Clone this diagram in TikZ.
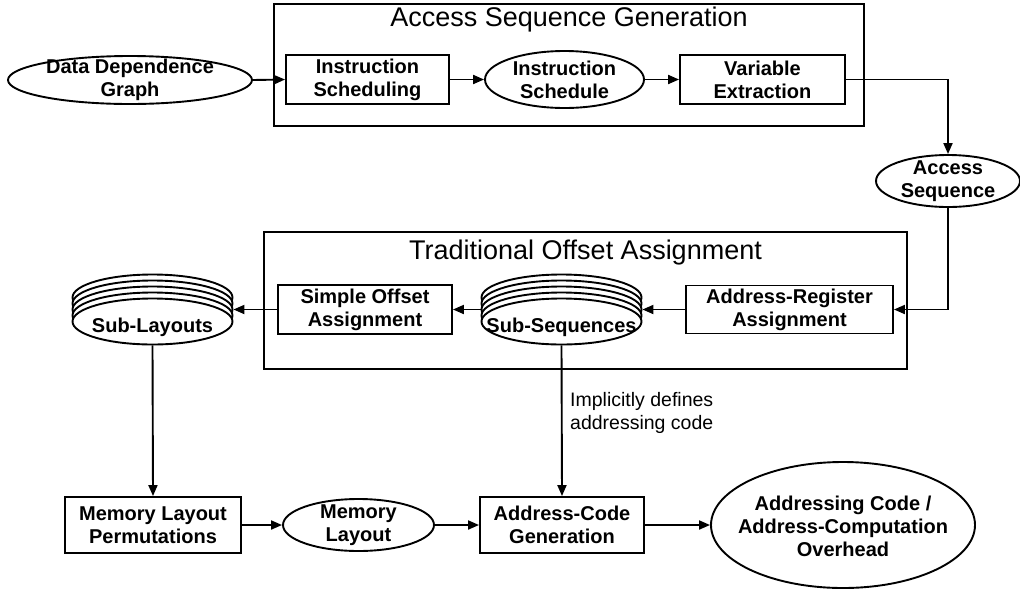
\documentclass[tikz,border=0pt]{standalone}
\usepackage{fontspec}
\setmainfont{Liberation Sans}
\usetikzlibrary{arrows.meta,shapes.geometric}
\begin{document}
\begin{tikzpicture}[x=1pt,y=-1pt,
  proc/.style={draw,line width=1.9pt,rectangle,inner sep=0pt,font=\bfseries\fontsize{20}{23}\selectfont,align=center},
  elli/.style={draw,line width=1.9pt,ellipse,inner sep=0pt},
  stk/.style={draw,fill=white,line width=1.9pt,ellipse,inner sep=0pt,minimum width=160pt,minimum height=46pt},
  etext/.style={font=\bfseries\fontsize{20}{23}\selectfont,align=center,inner sep=0pt},
  grp/.style={draw,line width=1.9pt,rectangle,inner sep=0pt},
  ttl/.style={font=\fontsize{27}{30}\selectfont,inner sep=0pt},
  lbl/.style={font=\fontsize{19.5}{23}\selectfont,align=left,inner sep=0pt},
  arr/.style={line width=1.9pt,-{Triangle[length=11pt,width=9pt]}}]
\useasboundingbox (0,0) rectangle (1020,590);

% group boxes
\node[grp,minimum width=590pt,minimum height=122pt] (asg) at (569,65) {};
\node[ttl] (asgt) at (569,20) {Access Sequence Generation};
\node[grp,minimum width=643pt,minimum height=137pt] (toa) at (585.5,300.5) {};
\node[ttl] (toat) at (585.5,253) {Traditional Offset Assignment};

% row 1
\node[elli,minimum width=244pt,minimum height=48pt] (ddg) at (130,80) {};
\node[etext] (ddgt) at (ddg) {Data Dependence\\Graph};
\node[proc,minimum width=163pt,minimum height=49pt] (is) at (367.5,79.5) {Instruction\\Scheduling};
\node[elli,minimum width=159pt,minimum height=57pt] (isc) at (564.5,79.5) {};
\node[etext] (isct) at (isc) {Instruction\\Schedule};
\node[proc,minimum width=165pt,minimum height=49pt] (ve) at (762.5,79.5) {Variable\\Extraction};
\node[elli,minimum width=144pt,minimum height=52pt] (as) at (948,181) {};
\node[etext] (ast) at (as) {Access\\Sequence};

% row 2
\node[proc,minimum width=207pt,minimum height=48pt] (ar) at (789.5,309.5) {Address-Register\\Assignment};
\node[proc,minimum width=174pt,minimum height=49pt] (so) at (365,309.5) {Simple Offset\\Assignment};
\foreach \i/\dy in {1/-24,2/-18,3/-12,4/-6,5/0}{
  \node[stk] (ss\i) at (561.5,321.5+\dy) {};
  \node[stk] (sl\i) at (152.5,321.5+\dy) {};
}
\node[etext] (sst) at (561.5,327) {Sub-Sequences};
\node[etext] (slt) at (152.5,327) {Sub-Layouts};

% row 3
\node[proc,minimum width=176pt,minimum height=56pt] (mlp) at (153,525) {Memory Layout\\Permutations};
\node[elli,minimum width=151pt,minimum height=52pt] (ml) at (358.5,525) {};
\node[etext] (mlt) at (ml) {Memory\\Layout};
\node[proc,minimum width=164pt,minimum height=56pt] (acg) at (562,525) {Address-Code\\Generation};
\node[elli,minimum width=264pt,minimum height=126pt] (ac) at (843,525) {};
\node[etext] (act) at (843,526) {Addressing Code /\\Address-Computation\\Overhead};
\node[lbl,anchor=west] (lab) at (570,413) {Implicitly defines\\addressing code};

% connectors
\draw[arr] (ddg.east) -- (is.west);
\draw[arr] (is.east) -- (isc.west);
\draw[arr] (isc.east) -- (ve.west);
\draw[arr] (ve.east) -| (as.north);
\draw[arr] (as.south) |- (ar.east);
\draw[arr] (ar.west) -- (ss3.east);
\draw[arr] (ss3.west) -- (so.east);
\draw[arr] (so.west) -- (sl3.east);
\draw[arr] (sl5.south) -- (mlp.north);
\draw[arr] (ss5.south) -- (acg.north);
\draw[arr] (mlp.east) -- (ml.west);
\draw[arr] (ml.east) -- (acg.west);
\draw[arr] (acg.east) -- (ac.west);
\end{tikzpicture}
\end{document}
